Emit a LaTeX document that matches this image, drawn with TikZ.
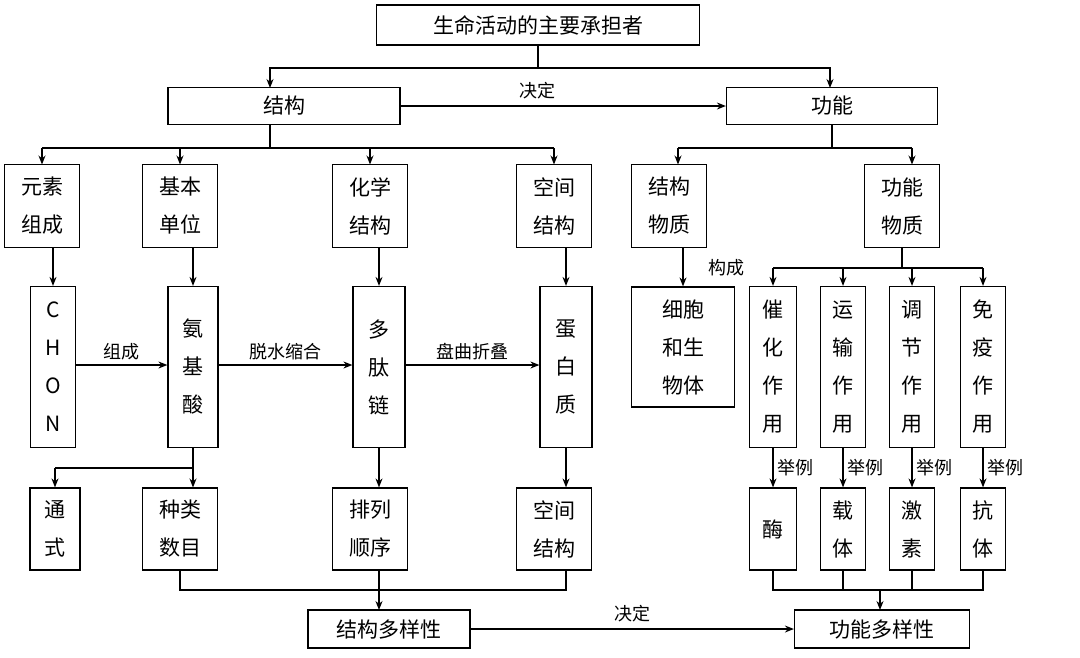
\documentclass[tikz,border=0pt]{standalone}
\usepackage{fontspec}
\setmainfont{Noto Sans CJK SC}
\usetikzlibrary{arrows.meta}
\begin{document}
\begin{tikzpicture}[x=1pt,y=-1pt,
  box/.style={draw,line width=1.2pt,inner sep=0pt,align=center,font=\fontsize{21}{38}\selectfont},
  ar/.style={line width=1.2pt,-{Stealth[length=9pt,width=7pt]}},
  ln/.style={line width=1.2pt},
  lb/.style={font=\fontsize{18}{20}\selectfont}]
\useasboundingbox (0,0) rectangle (1080,657);
\node[box,minimum width=323,minimum height=40] (top) at (538,25) {生命活动的主要承担者};
\node[box,minimum width=232,minimum height=37] (jg) at (284,106) {结构};
\node[box,minimum width=211,minimum height=37] (gn) at (832,106) {功能};
\coordinate (t1) at (538,68);
\draw[ln] (top.south) -- (t1);
\draw[ar] (t1) -| (270,88);
\draw[ar] (t1) -| (830,88);
\draw[ar] (jg.east) -- (gn.west) node[lb,pos=0.42,above=3pt] {决定};
% row2
\foreach \n/\x/\t in {ys/42/元素\\组成, jb/180/基本\\单位, hx/370/化学\\结构, kj/554/空间\\结构, jw/669/结构\\物质, gw/902/功能\\物质}
  \node[box,minimum width=75,minimum height=83] (\n) at (\x,206) {\t};
\draw[ln] (270,125) -- (270,148);
\draw[ln] (42,148) -- (554,148);
\foreach \x in {42,180,370,554} \draw[ar] (\x,148) -- (\x,164.5);
\draw[ln] (832,125) -- (832,148);
\draw[ln] (678,148) -- (912,148);
\draw[ar] (678,148) -- (678,164.5);
\draw[ar] (912,148) -- (912,164.5);
% row3
\node[box,minimum width=45,minimum height=161] (chon) at (53,367) {C\\H\\O\\N};
\node[box,minimum width=50,minimum height=161] (aa) at (193,367) {氨\\基\\酸};
\node[box,minimum width=52,minimum height=161] (dt) at (379,367) {多\\肽\\链};
\node[box,minimum width=52,minimum height=161] (db) at (566,367) {蛋\\白\\质};
\node[box,minimum width=103,minimum height=120] (xb) at (683,347) {细胞\\和生\\物体};
\node[box,minimum width=47,minimum height=161] (ch) at (773,367) {催\\化\\作\\用};
\node[box,minimum width=45,minimum height=161] (ys2) at (843,367) {运\\输\\作\\用};
\node[box,minimum width=45,minimum height=161] (tj) at (912,367) {调\\节\\作\\用};
\node[box,minimum width=45,minimum height=161] (my) at (983,367) {免\\疫\\作\\用};
\draw[ar] (ys.south -| chon) -- (chon.north);
\draw[ar] (193,247.5) -- (aa.north);
\draw[ar] (hx.south -| dt) -- (dt.north);
\draw[ar] (kj.south -| db) -- (db.north);
\draw[ar] (jw.south -| xb) -- (xb.north);
\draw[ln] (gw.south) -- (902,268);
\draw[ln] (773,268) -- (983,268);
\node[lb] at (726,268) {构成};
\foreach \n in {ch,ys2,tj,my} \draw[ar] (\n.north |- 0,268) -- (\n.north);
\draw[ar] (chon.east |- 0,365) -- (aa.west |- 0,365) node[lb,midway,above=1pt] {组成};
\draw[ar] (aa.east |- 0,365) -- (dt.west |- 0,365) node[lb,midway,above=1pt] {脱水缩合};
\draw[ar] (dt.east |- 0,365) -- (db.west |- 0,365) node[lb,midway,above=1pt] {盘曲折叠};
% row4
\node[box,minimum width=50,minimum height=82] (ts) at (55,529) {通\\式};
\node[box,minimum width=75,minimum height=82] (zl) at (180,529) {种类\\数目};
\node[box,minimum width=75,minimum height=82] (pl) at (370,529) {排列\\顺序};
\node[box,minimum width=75,minimum height=82] (kj2) at (554,529) {空间\\结构};
\node[box,minimum width=47,minimum height=82] (m) at (773,529) {酶};
\node[box,minimum width=45,minimum height=82] (zt) at (843,529) {载\\体};
\node[box,minimum width=45,minimum height=82] (js) at (912,529) {激\\素};
\node[box,minimum width=45,minimum height=82] (kt) at (983,529) {抗\\体};
\draw[ln] (aa.south) -- (193,468) -- (55,468);
\draw[ar] (55,468) -- (ts.north);
\draw[ar] (aa.south) -- (193,487.5);
\draw[ar] (dt.south) -- (dt.south |- pl.north);
\draw[ar] (db.south) -- (db.south |- kj2.north);
\foreach \a/\b in {ch/m,ys2/zt,tj/js,my/kt}
  \draw[ar] (\a.south) -- (\b.north) node[lb,pos=0.5,right=1pt] {举例};
% bottom
\node[box,minimum width=162,minimum height=38] (jd) at (389,629) {结构多样性};
\node[box,minimum width=175,minimum height=38] (gd) at (882,629) {功能多样性};
\draw[ln] (zl.south) -- (180,590) -- (566,590) -- (566,570);
\draw[ln] (pl.south -| dt) -- (379,590);
\draw[ar] (379,590) -- (379,610);
\draw[ln] (m.south) -- (773,590) -- (983,590) -- (kt.south);
\draw[ln] (zt.south) -- (843,590);
\draw[ln] (js.south) -- (912,590);
\draw[ar] (880,590) -- (880,610);
\draw[ar] (jd.east) -- (gd.west) node[lb,pos=0.5,above=3pt] {决定};
\end{tikzpicture}
\end{document}
